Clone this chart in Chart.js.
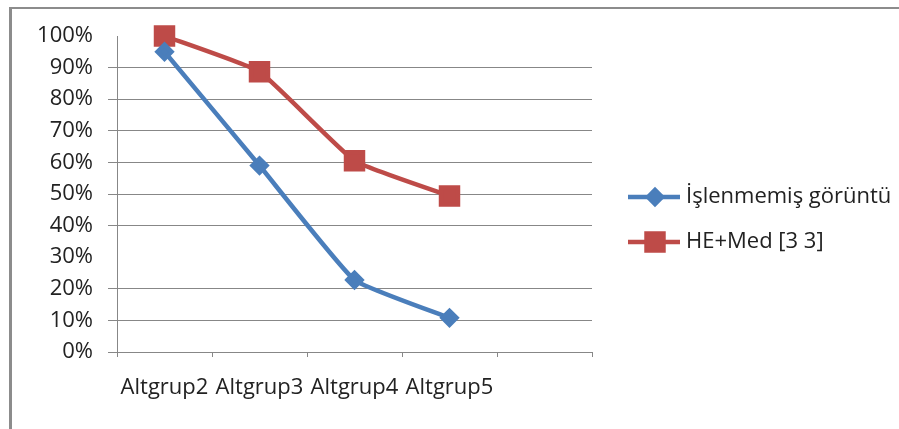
<!DOCTYPE html>
<html lang="tr">
<head>
    <meta charset="UTF-8">
    <title>Altgrup</title>
    <script src="https://cdn.jsdelivr.net/npm/chart.js"></script>
    <style>
        body { margin: 0; background: #fff; overflow: hidden; }
        #wrap { width: 899px; height: 429px; }
    </style>
</head>
<body>
    <div id="wrap">
        <canvas id="chart"></canvas>
    </div>

    <script>
        const categories = ['Altgrup2', 'Altgrup3', 'Altgrup4', 'Altgrup5', ''];
        const islenmemis = [95.0, 59.0, 22.8, 10.8, null];
        const heMed = [100, 88.7, 60.5, 49.4, null];
        const yTicks = [0, 10, 20, 30, 40, 50, 60, 70, 80, 90, 100];

        const FONT = '"Open Sans", sans-serif';
        const TEXT = '#222';
        const GRID = '#878787';

        // outer frame (only top and left edges are visible in the picture)
        const framePlugin = {
            id: 'frame',
            beforeDraw(chart) {
                const ctx = chart.ctx;
                ctx.save();
                ctx.fillStyle = '#8c8c8c';
                ctx.fillRect(9, 7, chart.width - 9, 2);
                ctx.fillRect(9, 7, 3, chart.height - 7);
                ctx.restore();
            }
        };

        // legend drawn by hand: short line with the marker on it, Excel style
        const legendPlugin = {
            id: 'sideLegend',
            afterDraw(chart) {
                const ctx = chart.ctx;
                const x0 = 628, x1 = 680, tx = 686;
                const ys = [197, 242];
                chart.data.datasets.forEach((ds, i) => {
                    const y = ys[i];
                    ctx.save();
                    ctx.strokeStyle = ds.borderColor;
                    ctx.lineWidth = ds.borderWidth;
                    ctx.beginPath();
                    ctx.moveTo(x0, y);
                    ctx.lineTo(x1, y);
                    ctx.stroke();
                    Chart.helpers.drawPoint(ctx, {
                        pointStyle: ds.pointStyle,
                        radius: ds.pointRadius,
                        borderWidth: 1
                    }, (x0 + x1) / 2 + 1, y);
                    ctx.fillStyle = ds.borderColor;
                    ctx.fill();
                    ctx.fillStyle = TEXT;
                    ctx.font = '22px ' + FONT;
                    ctx.textBaseline = 'middle';
                    ctx.fillText(ds.label, tx, y);
                    ctx.restore();
                });
            }
        };

        new Chart(document.getElementById('chart'), {
            type: 'line',
            data: {
                labels: categories,
                datasets: [{
                    label: 'İşlenmemiş görüntü',
                    data: islenmemis,
                    borderColor: '#4a7ebb',
                    backgroundColor: '#4a7ebb',
                    borderWidth: 4.5,
                    pointStyle: 'rectRot',
                    pointRadius: 7,
                    tension: 0.12,
                    clip: false
                }, {
                    label: 'HE+Med [3 3]',
                    data: heMed,
                    borderColor: '#be4b48',
                    backgroundColor: '#be4b48',
                    borderWidth: 4.5,
                    pointStyle: 'rect',
                    pointRadius: 12,
                    tension: 0.12,
                    clip: false
                }]
            },
            options: {
                responsive: true,
                maintainAspectRatio: false,
                animation: false,
                layout: { padding: { left: 0, top: 36, right: 307, bottom: 0 } },
                plugins: {
                    legend: { display: false },
                    tooltip: { enabled: false }
                },
                scales: {
                    x: {
                        offset: true,
                        grid: {
                            offset: true,
                            drawOnChartArea: false,
                            drawTicks: true,
                            tickLength: 5,
                            color: GRID
                        },
                        border: { color: GRID },
                        ticks: {
                            color: TEXT,
                            font: { family: FONT, size: 22 },
                            padding: 18,
                            maxRotation: 0,
                            autoSkip: false
                        },
                        afterFit(scale) { scale.height = 429 - 352; }
                    },
                    y: {
                        min: 0,
                        max: 100,
                        afterBuildTicks(scale) { scale.ticks = yTicks.map(v => ({ value: v })); },
                        grid: {
                            tickLength: 9,
                            color: ctx => (ctx.tick && (ctx.tick.value === 100 || ctx.tick.value === 30)) ? 'rgba(0,0,0,0)' : GRID
                        },
                        border: { color: GRID },
                        ticks: {
                            color: TEXT,
                            font: { family: FONT, size: 22 },
                            padding: 15,
                            callback: v => v + '%'
                        },
                        afterFit(scale) { scale.width = 117; }
                    }
                }
            },
            plugins: [framePlugin, legendPlugin]
        });
    </script>
</body>
</html>
